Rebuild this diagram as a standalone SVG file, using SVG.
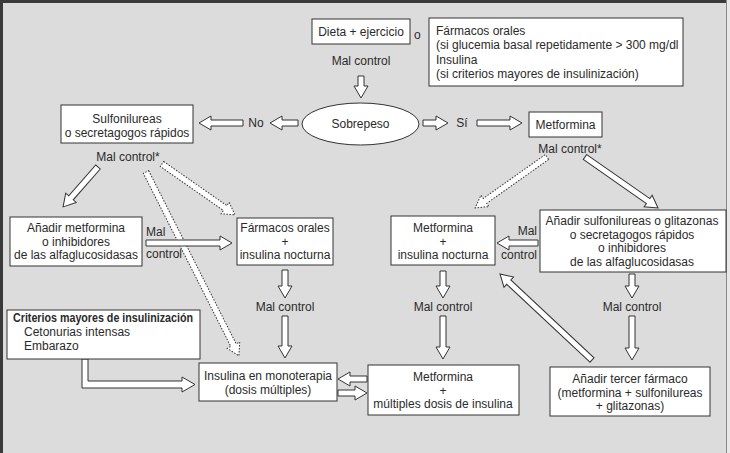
<svg xmlns="http://www.w3.org/2000/svg" width="730" height="453" viewBox="0 0 730 453">
<style>
.box{fill:#fff;stroke:#333;stroke-width:1}
.t{font-family:"Liberation Sans",Arial,sans-serif;font-size:12px;fill:#2a2a2a}
.c{text-anchor:middle}
.b{font-weight:bold}
.ar{fill:#fff;stroke:#333;stroke-width:1;stroke-linejoin:miter}
.dot{fill:#fff;stroke:#333;stroke-width:1;stroke-dasharray:1.5,1.5}
</style>
<rect x="0" y="0" width="730" height="453" fill="#dcdcdc"/>
<rect x="727" y="0" width="3" height="453" fill="#e8e8e8"/>
<line x1="0" y1="1.5" x2="727" y2="1.5" stroke="#3a3a3a" stroke-width="3"/>
<line x1="1.5" y1="0" x2="1.5" y2="453" stroke="#3a3a3a" stroke-width="3"/>
<line x1="726.5" y1="0" x2="726.5" y2="453" stroke="#888" stroke-width="1"/>

<g id="connectors">
<polygon class="ar" transform="translate(361,76) rotate(90)" points="0,-3 10,-3 10,-7 22,0 10,7 10,3 0,3"/>
<polygon class="ar" transform="translate(298,123) rotate(180)" points="0,-3 16,-3 16,-7 28,0 16,7 16,3 0,3"/>
<polygon class="ar" transform="translate(243,123) rotate(180)" points="0,-3 32,-3 32,-7 44,0 32,7 32,3 0,3"/>
<polygon class="ar" transform="translate(423,123)" points="0,-3 13,-3 13,-7 25,0 13,7 13,3 0,3"/>
<polygon class="ar" transform="translate(477,123)" points="0,-3 33,-3 33,-7 45,0 33,7 33,3 0,3"/>
<polygon class="ar" transform="translate(98,167) rotate(131.2)" points="0,-3 41,-3 41,-7 53,0 41,7 41,3 0,3"/>
<polygon class="dot" transform="translate(146,172) rotate(63.2)" points="0,-3 194,-3 194,-7 206,0 194,7 194,3 0,3"/>
<polygon class="dot" transform="translate(162,164) rotate(34.9)" points="0,-3 77,-3 77,-7 89,0 77,7 77,3 0,3"/>
<polygon class="dot" transform="translate(547,157) rotate(144.7)" points="0,-3 76,-3 76,-7 88,0 76,7 76,3 0,3"/>
<polygon class="ar" transform="translate(585,157) rotate(34.9)" points="0,-3 77,-3 77,-7 89,0 77,7 77,3 0,3"/>
<polygon class="ar" transform="translate(146,243)" points="0,-3 74,-3 74,-7 86,0 74,7 74,3 0,3"/>
<polygon class="ar" transform="translate(285,270) rotate(90)" points="0,-3 16,-3 16,-7 28,0 16,7 16,3 0,3"/>
<polygon class="ar" transform="translate(285,316) rotate(90)" points="0,-3 30,-3 30,-7 42,0 30,7 30,3 0,3"/>
<polygon class="ar" transform="translate(538,243) rotate(180)" points="0,-3 29,-3 29,-7 41,0 29,7 29,3 0,3"/>
<polygon class="ar" transform="translate(443,271) rotate(90)" points="0,-3 15,-3 15,-7 27,0 15,7 15,3 0,3"/>
<polygon class="ar" transform="translate(443,316) rotate(90)" points="0,-3 31,-3 31,-7 43,0 31,7 31,3 0,3"/>
<polygon class="ar" transform="translate(632,274) rotate(90)" points="0,-3 12,-3 12,-7 24,0 12,7 12,3 0,3"/>
<polygon class="ar" transform="translate(632,316) rotate(90)" points="0,-3 32,-3 32,-7 44,0 32,7 32,3 0,3"/>
<polygon class="ar" transform="translate(592,360) rotate(-136.9)" points="0,-3 114,-3 114,-7 126,0 114,7 114,3 0,3"/>
<polygon class="ar" transform="translate(367,379) rotate(180)" points="0,-3 17,-3 17,-7 29,0 17,7 17,3 0,3"/>
<polygon class="ar" transform="translate(338,393)" points="0,-3 17,-3 17,-7 29,0 17,7 17,3 0,3"/>
<polygon class="ar" points="82,359 88,359 88,381 182,381 182,377 195,384.5 182,392 182,388 82,388"/>
</g>

<g id="dieta">
<rect class="box" x="312" y="19" width="98" height="25"/>
<text class="t c" x="361" y="36">Dieta + ejercicio</text>
</g>
<text class="t" x="414" y="39">o</text>
<g id="farmacos-top">
<rect class="box" x="429" y="18" width="254" height="68"/>
<text class="t" x="436" y="35">Fármacos orales</text>
<text class="t" x="436" y="49">(si glucemia basal repetidamente &gt; 300 mg/dl</text>
<text class="t" x="436" y="64">Insulina</text>
<text class="t" x="436" y="78">(si criterios mayores de insulinización)</text>
</g>
<text class="t c" x="361" y="65">Mal control</text>

<g id="sobrepeso">
<ellipse class="box" cx="360.5" cy="124" rx="58.5" ry="21"/>
<text class="t c" x="360.5" y="128">Sobrepeso</text>
</g>
<text class="t c" x="256" y="127">No</text>
<text class="t c" x="462" y="127">Sí</text>

<g id="sulfonilureas">
<rect class="box" x="61" y="105" width="132" height="38"/>
<text class="t c" x="127" y="122.5">Sulfonilureas</text>
<text class="t c" x="127" y="136.5">o secretagogos rápidos</text>
</g>
<text class="t c" x="128" y="161">Mal control*</text>

<g id="metformina">
<rect class="box" x="529" y="112" width="73" height="25"/>
<text class="t c" x="565.5" y="129">Metformina</text>
</g>
<text class="t c" x="570" y="153">Mal control*</text>

<g id="anadir-metformina">
<rect class="box" x="10" y="217" width="132" height="49"/>
<text class="t c" x="76" y="232">Añadir metformina</text>
<text class="t c" x="76" y="245.5">o inhibidores</text>
<text class="t c" x="76" y="259">de las alfaglucosidasas</text>
</g>
<text class="t" x="146" y="236">Mal</text>
<text class="t" x="146" y="258">control</text>

<g id="farmacos-insulina">
<rect class="box" x="237" y="218" width="96" height="47"/>
<text class="t c" x="285" y="232">Fármacos orales</text>
<text class="t c" x="285" y="245.5">+</text>
<text class="t c" x="285" y="259">insulina nocturna</text>
</g>
<text class="t c" x="285" y="311">Mal control</text>

<g id="metformina-insulina">
<rect class="box" x="391" y="216" width="104" height="49"/>
<text class="t c" x="443" y="232">Metformina</text>
<text class="t c" x="443" y="245.5">+</text>
<text class="t c" x="443" y="259">insulina nocturna</text>
</g>
<text class="t" x="537" y="235" text-anchor="end">Mal</text>
<text class="t" x="537" y="259" text-anchor="end">control</text>
<text class="t c" x="443" y="311">Mal control</text>

<g id="anadir-sulfonilureas">
<rect class="box" x="540" y="210" width="186" height="62"/>
<text class="t c" x="632" y="225">Añadir sulfonilureas o glitazonas</text>
<text class="t c" x="632" y="238.5">o secretagogos rápidos</text>
<text class="t c" x="632" y="252">o inhibidores</text>
<text class="t c" x="632" y="265.5">de las alfaglucosidasas</text>
</g>
<text class="t c" x="632" y="311">Mal control</text>

<g id="criterios">
<rect class="box" x="7" y="310" width="193" height="49"/>
<text class="t b" x="13" y="322" textLength="180" lengthAdjust="spacingAndGlyphs">Criterios mayores de insulinización</text>
<text class="t" x="24" y="336">Cetonurias intensas</text>
<text class="t" x="24" y="350">Embarazo</text>
</g>

<g id="insulina-monoterapia">
<rect class="box" x="199" y="363" width="138" height="38"/>
<text class="t c" x="268" y="380">Insulina en monoterapia</text>
<text class="t c" x="268" y="394">(dosis múltiples)</text>
</g>

<g id="metformina-multiples">
<rect class="box" x="368" y="365" width="151" height="50"/>
<text class="t c" x="443" y="381">Metformina</text>
<text class="t c" x="443" y="394.5">+</text>
<text class="t c" x="443" y="408">múltiples dosis de insulina</text>
</g>

<g id="tercer-farmaco">
<rect class="box" x="550" y="367" width="160" height="49"/>
<text class="t c" x="630" y="383">Añadir tercer fármaco</text>
<text class="t c" x="630" y="396.5">(metformina + sulfonilureas</text>
<text class="t c" x="630" y="410">+ glitazonas)</text>
</g>
</svg>
